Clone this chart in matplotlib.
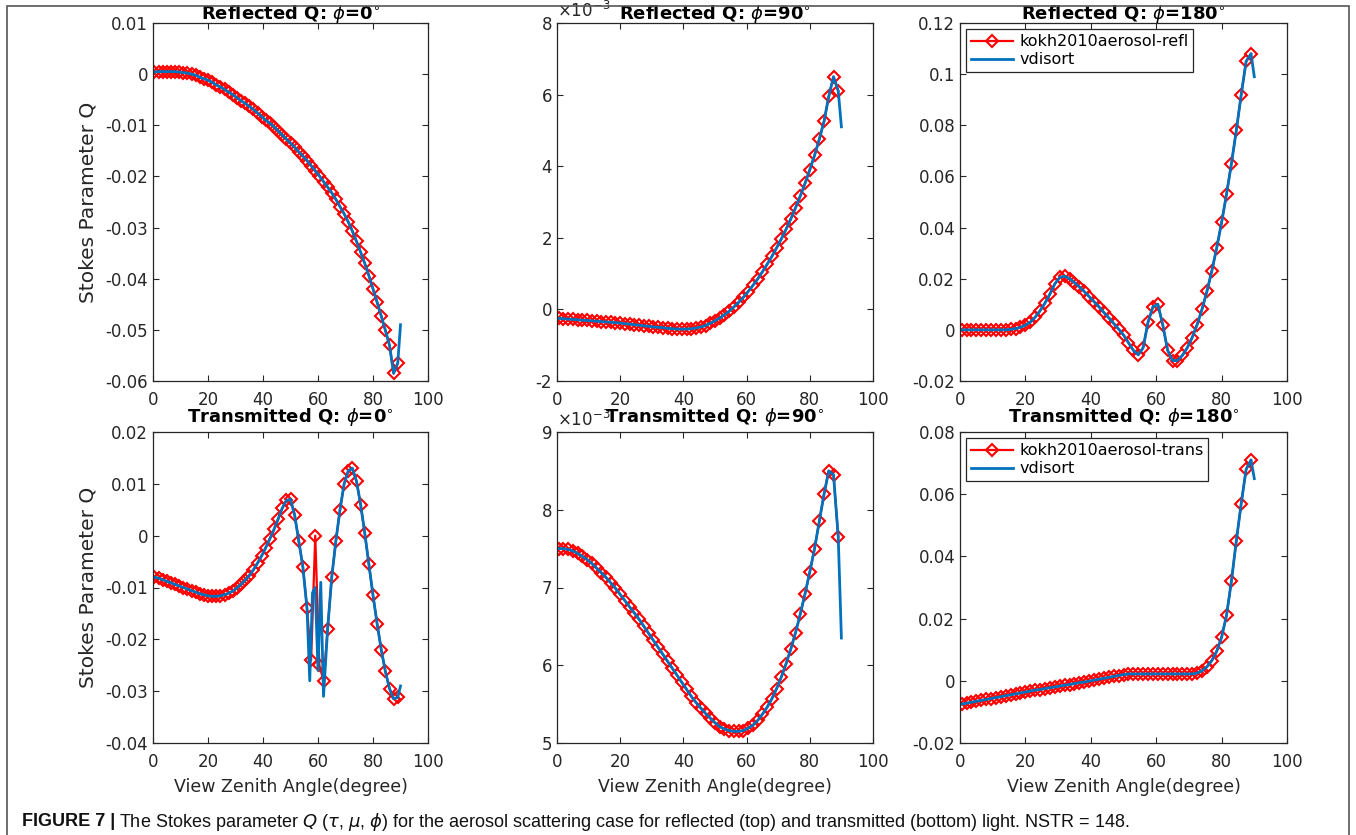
import matplotlib
matplotlib.use('Agg')
from matplotlib import pyplot as plt
from matplotlib.ticker import MultipleLocator, FuncFormatter
from matplotlib.patches import Rectangle

plt.rcParams['font.family'] = ['DejaVu Sans']
plt.rcParams['axes.unicode_minus'] = False
plt.rcParams['mathtext.fontset'] = 'dejavusans'

# view zenith angles of the kokh2010 points (degree)
ang = [0.5, 2, 3.5, 5, 6.5, 8, 9.5, 11, 12.5, 14,
       15.5, 17, 18.5, 20, 21.5, 23, 24.5, 26, 27.5, 29,
       30.5, 32, 33.5, 35, 36.5, 38, 39.5, 41, 42.5, 44,
       45.5, 47, 48.5, 50, 51.5, 53, 54.5, 56, 57.5, 59,
       60.5, 62, 63.5, 65, 66.5, 68, 69.5, 71, 72.5, 74,
       75.5, 77, 78.5, 80, 81.5, 83, 84.5, 86, 87.5, 89]

# reflected Q, phi = 0
refl_0 = [0.0004, 0.0005, 0.0005, 0.0005, 0.0005, 0.0005, 0.0004, 0.0003, 0.0002, 0.0000,
          -0.0002, -0.0006, -0.0009, -0.0012, -0.0016, -0.0021, -0.0025, -0.0030, -0.0035, -0.0040,
          -0.0046, -0.0052, -0.0057, -0.0063, -0.0069, -0.0076, -0.0083, -0.0090, -0.0096, -0.0103,
          -0.0111, -0.0119, -0.0127, -0.0135, -0.0143, -0.0152, -0.0160, -0.0169, -0.0179, -0.0189,
          -0.0199, -0.0210, -0.0221, -0.0232, -0.0245, -0.0259, -0.0273, -0.0289, -0.0307, -0.0327,
          -0.0348, -0.0370, -0.0394, -0.0420, -0.0446, -0.0473, -0.0501, -0.0530, -0.0585, -0.0565]
# reflected Q, phi = 90  (x 1e-3)
refl_90 = [-0.25, -0.26, -0.27, -0.28, -0.29, -0.30, -0.31, -0.32, -0.33, -0.34,
           -0.35, -0.36, -0.37, -0.38, -0.40, -0.41, -0.43, -0.44, -0.46, -0.47,
           -0.49, -0.50, -0.51, -0.53, -0.54, -0.55, -0.55, -0.55, -0.54, -0.52,
           -0.49, -0.45, -0.39, -0.32, -0.24, -0.15, -0.05, 0.07, 0.20, 0.34,
           0.50, 0.67, 0.85, 1.05, 1.26, 1.48, 1.72, 1.97, 2.24, 2.53,
           2.84, 3.17, 3.52, 3.90, 4.30, 4.75, 5.25, 5.95, 6.50, 6.10]
# reflected Q, phi = 180
refl_180 = [0.0, 0.0, 0.0, 0.0, 0.0, 0.0, 0.0, 0.0, 0.0, 0.0,
            0.0002, 0.0005, 0.0010, 0.0018, 0.0030, 0.0050, 0.0075, 0.0105, 0.0140, 0.0180,
            0.0205, 0.0210, 0.0200, 0.0185, 0.0168, 0.0150, 0.0130, 0.0110, 0.0090, 0.0068,
            0.0047, 0.0025, 0.0003, -0.0020, -0.0050, -0.0080, -0.0098, -0.0070, 0.0030, 0.0090,
            0.0100, 0.0020, -0.0080, -0.0120, -0.0120, -0.0100, -0.0070, -0.0030, 0.0020, 0.0080,
            0.0150, 0.0230, 0.0320, 0.0420, 0.0530, 0.0650, 0.0780, 0.0920, 0.1050, 0.1080]
# transmitted Q, phi = 0
trans_0 = [-0.0080, -0.0082, -0.0085, -0.0088, -0.0091, -0.0094, -0.0097, -0.0100, -0.0103, -0.0106,
           -0.0109, -0.0112, -0.0114, -0.0116, -0.0117, -0.0117, -0.0116, -0.0114, -0.0111, -0.0107,
           -0.0101, -0.0094, -0.0086, -0.0077, -0.0066, -0.0053, -0.0039, -0.0023, -0.0006, 0.0012,
           0.0032, 0.0053, 0.0068, 0.0070, 0.0040, -0.0010, -0.0060, -0.0140, -0.0240, 0.0000,
           -0.0250, -0.0280, -0.0180, -0.0080, -0.0010, 0.0050, 0.0100, 0.0125, 0.0130, 0.0105,
           0.0060, 0.0005, -0.0055, -0.0115, -0.0170, -0.0220, -0.0262, -0.0295, -0.0315, -0.0312]
# transmitted Q, phi = 90  (x 1e-3)
trans_90 = [7.50, 7.50, 7.49, 7.47, 7.44, 7.40, 7.36, 7.31, 7.25, 7.19,
            7.13, 7.06, 6.99, 6.91, 6.83, 6.75, 6.67, 6.59, 6.50, 6.41,
            6.32, 6.23, 6.14, 6.05, 5.96, 5.87, 5.78, 5.69, 5.60, 5.52,
            5.45, 5.38, 5.32, 5.26, 5.21, 5.18, 5.16, 5.15, 5.15, 5.16,
            5.19, 5.23, 5.29, 5.37, 5.46, 5.57, 5.70, 5.85, 6.02, 6.21,
            6.42, 6.66, 6.92, 7.20, 7.50, 7.85, 8.20, 8.50, 8.45, 7.65]
# transmitted Q, phi = 180
trans_180 = [-0.0075, -0.0072, -0.0069, -0.0066, -0.0063, -0.0060, -0.0057, -0.0054, -0.0051, -0.0048,
             -0.0045, -0.0042, -0.0039, -0.0036, -0.0033, -0.0030, -0.0028, -0.0025, -0.0022, -0.0020,
             -0.0017, -0.0014, -0.0012, -0.0009, -0.0006, -0.0004, -0.0001, 0.0002, 0.0005, 0.0008,
             0.0011, 0.0014, 0.0017, 0.0020, 0.0022, 0.0022, 0.0022, 0.0022, 0.0022, 0.0022,
             0.0022, 0.0022, 0.0022, 0.0022, 0.0022, 0.0022, 0.0022, 0.0022, 0.0025, 0.0032,
             0.0045, 0.0065, 0.0095, 0.0140, 0.0210, 0.0320, 0.0450, 0.0570, 0.0680, 0.0710]

# vdisort: follows kokh2010 and ends at 90 deg with these values
vd_end = [-0.049, 5.1, 0.099, -0.029, 6.35, 0.065]
# vdisort differs from kokh2010 near 55-63 deg in transmitted phi=0
vd4_patch_ang = [54.5, 56, 57, 58, 59, 60, 61, 62, 63.5]
vd4_patch_val = [-0.006, -0.014, -0.028, -0.011, -0.010, -0.026, -0.009, -0.031, -0.018]

series = [refl_0, refl_90, refl_180, trans_0, trans_90, trans_180]
titles = ['Reflected Q: $\\phi$=0$^{\\circ}$', 'Reflected Q: $\\phi$=90$^{\\circ}$',
          'Reflected Q: $\\phi$=180$^{\\circ}$', 'Transmitted Q: $\\phi$=0$^{\\circ}$',
          'Transmitted Q: $\\phi$=90$^{\\circ}$', 'Transmitted Q: $\\phi$=180$^{\\circ}$']
ylims = [(-0.06, 0.01), (-2, 8), (-0.02, 0.12), (-0.04, 0.02), (5, 9), (-0.02, 0.08)]
ysteps = [0.01, 2, 0.02, 0.01, 1, 0.02]

W, H = 1356, 835
boxes = [(153, 23, 428, 381), (557, 23, 873, 381), (960, 23, 1287, 381),
         (153, 432, 428, 743), (557, 432, 873, 743), (960, 432, 1287, 743)]

fig = plt.figure(figsize=(W / 100, H / 100), dpi=100)
dark = '#262626'
blue = '#0072BD'

for i in range(6):
    l, t, r, b = boxes[i]
    ax = fig.add_axes([l / W, (H - b) / H, (r - l) / W, (b - t) / H])
    ys = series[i]
    if i == 3:
        vx = [a for a in ang if a < 54.5] + vd4_patch_ang + [a for a in ang if a > 63.5] + [90]
        vy = [y for a, y in zip(ang, ys) if a < 54.5] + vd4_patch_val + \
             [y for a, y in zip(ang, ys) if a > 63.5] + [vd_end[i]]
    else:
        vx = ang + [90]
        vy = ys + [vd_end[i]]
    label_k = 'kokh2010aerosol-refl' if i < 3 else 'kokh2010aerosol-trans'
    ax.plot(ang, ys, color='red', lw=1.6, marker='D', ms=6.2, mfc='none', mew=1.5,
            label=label_k)
    ax.plot(vx, vy, color=blue, lw=2, label='vdisort')

    ax.set_xlim(0, 100)
    ax.set_ylim(*ylims[i])
    ax.xaxis.set_major_locator(MultipleLocator(20))
    ax.yaxis.set_major_locator(MultipleLocator(ysteps[i]))
    ax.yaxis.set_major_formatter(FuncFormatter(lambda v, p: '%g' % round(v, 6)))
    ax.tick_params(direction='in', top=True, right=True, labelsize=12, colors=dark,
                   length=4, width=0.8)
    ax.tick_params(axis='x', pad=7)
    for s in ax.spines.values():
        s.set_color(dark)
        s.set_linewidth(0.9)
    ax.set_title(titles[i], fontsize=13, fontweight='bold', pad=3 if i < 3 else 7)

    if i in (1, 4):
        ax.text(0.0, 1.005, r'$\times10^{-3}$', transform=ax.transAxes, ha='left',
                va='bottom', fontsize=12, color=dark)
    if i in (0, 3):
        ax.set_ylabel('Stokes Parameter Q', fontsize=14.5, color=dark, labelpad=6)
    if i >= 3:
        ax.set_xlabel('View Zenith Angle(degree)', fontsize=12.5, color=dark, labelpad=5)
    if i in (2, 5):
        leg = ax.legend(loc='upper left', fontsize=11.5, fancybox=False, framealpha=1,
                        edgecolor=dark, borderaxespad=0.4, handlelength=2.6,
                        borderpad=0.3, labelspacing=0.2, handletextpad=0.4)
        leg.get_frame().set_linewidth(0.9)

# caption and frame
cap_y = (H - 822) / H
t1 = fig.text(22 / W, cap_y, 'FIGURE 7 |', fontsize=13, fontweight='bold',
              family=['Liberation Sans', 'DejaVu Sans'], va='center', color='#111111')
fig.canvas.draw()
bb = t1.get_window_extent()
fig.text(bb.x1 / W + 0.003, cap_y,
         'The Stokes parameter $Q$ ($\\tau$, $\\mu$, $\\phi$) for the aerosol scattering case for '
         'reflected (top) and transmitted (bottom) light. NSTR = 148.',
         fontsize=13, family=['Liberation Sans', 'DejaVu Sans'], va='center', color='#111111')

fig.patches.append(Rectangle((7 / W, -0.01), 1342 / W, (H - 6) / H + 0.01,
                             transform=fig.transFigure, fill=False,
                             edgecolor='#555555', lw=1.2))

plt.savefig('out.png', dpi=100)
